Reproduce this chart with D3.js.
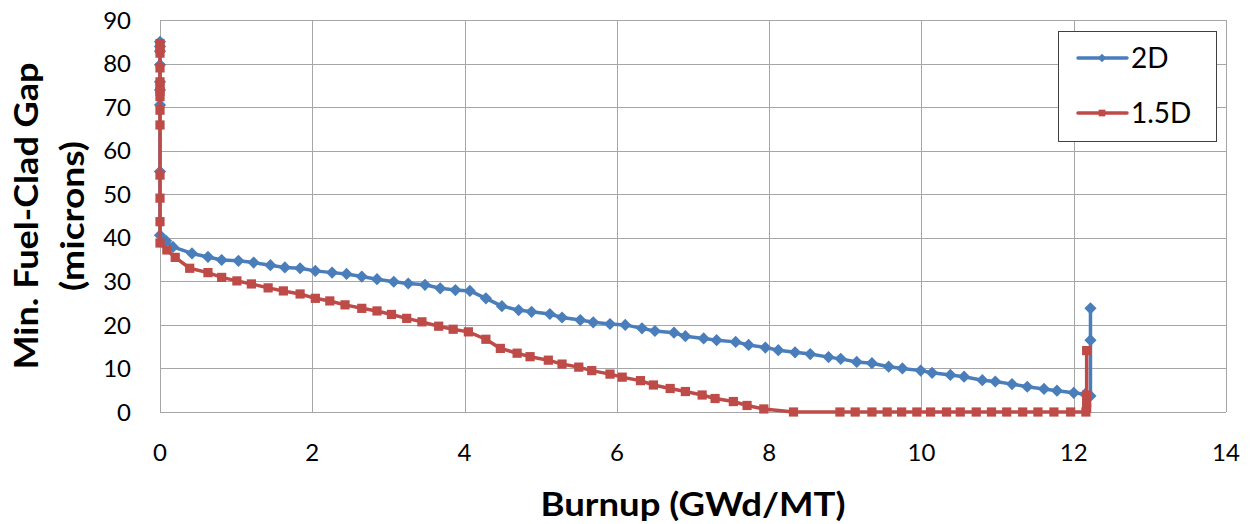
<!DOCTYPE html>
<html>
<head>
<meta charset="utf-8">
<script src="https://cdn.jsdelivr.net/npm/d3@7"></script>
<style>
  body { margin: 0; background: #fff; }
  svg { display: block; font-family: Lato, "Open Sans", sans-serif; }
  .grid line { stroke: #a6a6a6; stroke-width: 1; }
</style>
</head>
<body>
<svg class="svg-main" width="1253" height="524"></svg>
<script>
// 2D series
const x2D = [0, 0, 0, 0, 0, 0, 0, 0, 0, 0.08, 0.17, 0.42, 0.63, 0.81, 1.03, 1.23, 1.45, 1.64, 1.84,
  2.04, 2.26, 2.45, 2.65, 2.85, 3.07, 3.26, 3.48, 3.68, 3.88, 4.07, 4.28, 4.49, 4.71, 4.88,
  5.12, 5.28, 5.52, 5.69, 5.91, 6.11, 6.33, 6.5, 6.75, 6.9, 7.14, 7.31, 7.56, 7.73, 7.95,
  8.12, 8.34, 8.54, 8.78, 8.94, 9.15, 9.35, 9.57, 9.75, 9.99, 10.14, 10.38, 10.56, 10.8,
  10.97, 11.19, 11.39, 11.61, 11.78, 12.0, 12.15, 12.22, 12.22, 12.22];
const y2D = [85.0, 83.9, 82.8, 79.7, 75.8, 73.9, 70.5, 55.2, 40.6, 39.3, 37.9, 36.4, 35.6, 34.9, 34.7,
  34.3, 33.7, 33.2, 33.0, 32.4, 32.0, 31.7, 31.1, 30.5, 29.9, 29.5, 29.2, 28.4, 28.0, 27.8,
  26.1, 24.3, 23.4, 23.0, 22.5, 21.7, 21.1, 20.6, 20.2, 20.0, 19.2, 18.6, 18.2, 17.4, 16.9,
  16.5, 16.1, 15.4, 14.8, 14.2, 13.7, 13.3, 12.6, 12.2, 11.5, 11.2, 10.4, 10.0, 9.5, 9.0,
  8.5, 8.1, 7.3, 7.0, 6.4, 5.8, 5.3, 4.9, 4.4, 4.1, 3.7, 16.5, 23.8];

// 1.5D series
const x15D = [0, 0, 0, 0, 0, 0, 0, 0, 0, 0, 0, 0, 0, 0, 0.09, 0.2, 0.39, 0.63, 0.81, 1.01, 1.2,
  1.42, 1.62, 1.84, 2.04, 2.23, 2.43, 2.65, 2.85, 3.04, 3.24, 3.44, 3.66, 3.85, 4.05, 4.28,
  4.47, 4.69, 4.86, 5.1, 5.28, 5.5, 5.67, 5.91, 6.07, 6.31, 6.48, 6.7, 6.9, 7.12, 7.29,
  7.53, 7.71, 7.93, 8.32, 8.93, 9.13, 9.35, 9.55, 9.74, 9.94, 10.12, 10.33, 10.51, 10.72,
  10.92, 11.12, 11.33, 11.53, 11.74, 11.96, 12.16, 12.17, 12.17, 12.17, 12.17];
const y15D = [84.6, 83.5, 82.4, 79.0, 75.8, 74.7, 73.6, 72.4, 69.3, 65.9, 54.4, 49.1, 43.7, 38.8,
  37.2, 35.5, 33.0, 32.0, 30.9, 30.1, 29.4, 28.5, 27.8, 27.1, 26.1, 25.5, 24.6, 23.8, 23.2,
  22.4, 21.5, 20.7, 19.7, 19.0, 18.4, 16.7, 14.6, 13.5, 12.7, 11.9, 11.0, 10.3, 9.5, 8.7,
  8.0, 7.2, 6.2, 5.4, 4.7, 3.9, 3.1, 2.4, 1.5, 0.7, 0, 0, 0, 0, 0, 0, 0, 0, 0, 0, 0, 0, 0,
  0, 0, 0, 0, 0, 0.9, 2.1, 3.9, 14.1];

const xTicks = [0, 2, 4, 6, 8, 10, 12, 14];
const yTicks = [0, 10, 20, 30, 40, 50, 60, 70, 80, 90];
const seriesNames = ["2D", "1.5D"];

const svg = d3.select(".svg-main");
const margin = { top: 20, right: 27, bottom: 112, left: 160 };
const width = Number(svg.attr("width"));
const height = Number(svg.attr("height"));

const x = d3.scaleLinear().domain([0, 14]).range([margin.left, width - margin.right]);
const y = d3.scaleLinear().domain([0, 90]).range([height - margin.bottom, margin.top]);

const blue = "#4a7ebb";
const red = "#be4b48";

// gridlines
const grid = svg.append("g").attr("class", "grid");
grid.selectAll("line.h")
  .data(yTicks)
  .enter().append("line")
    .attr("class", "h")
    .attr("x1", x(0)).attr("x2", x(14))
    .attr("y1", d => Math.round(y(d)) + 0.5).attr("y2", d => Math.round(y(d)) + 0.5);
grid.selectAll("line.v")
  .data(xTicks)
  .enter().append("line")
    .attr("class", "v")
    .attr("y1", y(0)).attr("y2", y(90))
    .attr("x1", d => Math.round(x(d)) + 0.5).attr("x2", d => Math.round(x(d)) + 0.5);

// tick labels
svg.append("g")
  .selectAll("text")
  .data(yTicks)
  .enter().append("text")
    .attr("x", 131)
    .attr("y", d => y(d))
    .attr("dy", "0.36em")
    .attr("text-anchor", "end")
    .attr("font-size", 24)
    .text(d => d);

svg.append("g")
  .selectAll("text")
  .data(xTicks)
  .enter().append("text")
    .attr("x", d => x(d))
    .attr("y", 452)
    .attr("dy", "0.36em")
    .attr("text-anchor", "middle")
    .attr("font-size", 24)
    .text(d => d);

// axis titles
svg.append("text")
  .attr("x", (x(0) + x(14)) / 2)
  .attr("y", 516)
  .attr("text-anchor", "middle")
  .attr("font-size", 32)
  .attr("font-weight", "bold")
  .attr("textLength", 305)
  .attr("lengthAdjust", "spacingAndGlyphs")
  .text("Burnup (GWd/MT)");

const yTitle = svg.append("text")
  .attr("transform", `translate(0, ${(y(0) + y(90)) / 2}) rotate(-90)`)
  .attr("text-anchor", "middle")
  .attr("font-size", 32)
  .attr("font-weight", "bold");
yTitle.append("tspan").attr("x", 0).attr("y", 38)
  .attr("textLength", 307).attr("lengthAdjust", "spacingAndGlyphs")
  .text("Min. Fuel-Clad Gap");
yTitle.append("tspan").attr("x", 0).attr("y", 84)
  .attr("textLength", 150).attr("lengthAdjust", "spacingAndGlyphs")
  .text("(microns)");

// series
const line = d3.line().x(d => x(d[0])).y(d => y(d[1]));
const data2D = x2D.map((v, i) => [v, y2D[i]]);
const data15D = x15D.map((v, i) => [v, y15D[i]]);

const diamond = d3.symbol().type(d3.symbolDiamond2).size(95);
const square = d3.symbol().type(d3.symbolSquare).size(85);

function drawSeries(data, color, symbol) {
  const g = svg.append("g");
  g.append("path")
    .datum(data)
    .attr("fill", "none")
    .attr("stroke", color)
    .attr("stroke-width", 3.5)
    .attr("stroke-linejoin", "round")
    .attr("d", line);
  g.selectAll("path.mark")
    .data(data)
    .enter().append("path")
      .attr("class", "mark")
      .attr("transform", d => `translate(${x(d[0])},${y(d[1])})`)
      .attr("fill", color)
      .attr("d", symbol);
}
drawSeries(data2D, blue, diamond);
drawSeries(data15D, red, square);

// legend
const legend = svg.append("g");
legend.append("rect")
  .attr("x", 1058.5).attr("y", 31.5)
  .attr("width", 158).attr("height", 110)
  .attr("fill", "#fff")
  .attr("stroke", "#404040");
const legendItems = [
  { name: seriesNames[0], color: blue, symbol: d3.symbol().type(d3.symbolDiamond2).size(45), cy: 58 },
  { name: seriesNames[1], color: red, symbol: d3.symbol().type(d3.symbolSquare).size(45), cy: 113 }
];
legendItems.forEach(item => {
  legend.append("line")
    .attr("x1", 1078).attr("x2", 1127)
    .attr("y1", item.cy).attr("y2", item.cy)
    .attr("stroke", item.color).attr("stroke-width", 3.5)
    .attr("stroke-linecap", "round");
  legend.append("path")
    .attr("transform", `translate(1102,${item.cy})`)
    .attr("fill", item.color)
    .attr("d", item.symbol());
  legend.append("text")
    .attr("x", 1131)
    .attr("y", item.cy)
    .attr("dy", "0.36em")
    .attr("font-size", 28)
    .text(item.name);
});
</script>
</body>
</html>
